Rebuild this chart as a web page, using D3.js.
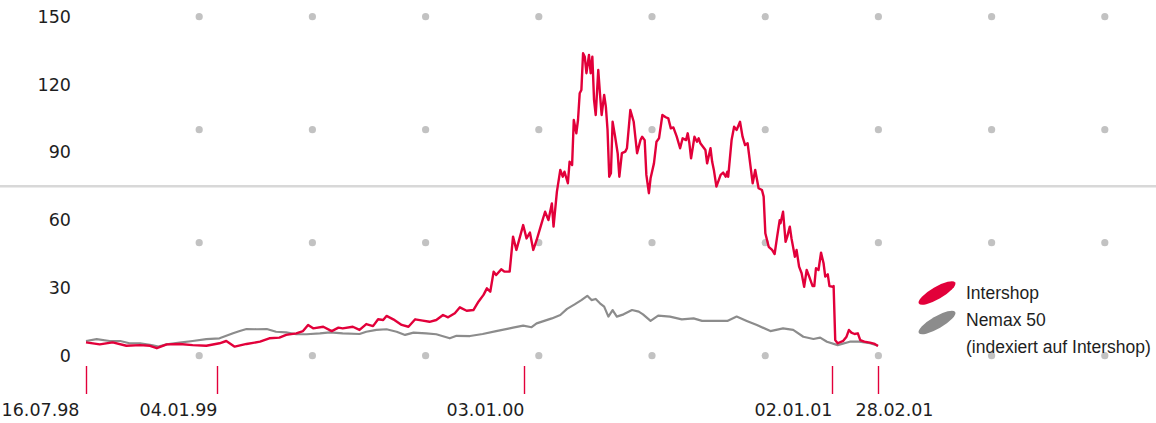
<!DOCTYPE html>
<html>
<head>
<meta charset="utf-8">
<script src="https://cdn.jsdelivr.net/npm/d3@7"></script>
<style>
  body { margin: 0; background: #fff; }
  svg text { font-family: 'Liberation Sans', Arial, sans-serif; font-size: 17.5px; fill: #1e1e1e; }
  svg .axis text { font-family: 'DejaVu Sans', sans-serif; }
</style>
</head>
<body>
<div id="chart"></div>
<script>
// axis labels
const tickDates = ['1998-07-16', '1999-01-04', '2000-01-03', '2001-01-02', '2001-02-28'];
const tickLabels = ['16.07.98', '04.01.99', '03.01.00', '02.01.01', '28.02.01'];
const yTicks = [0, 30, 60, 90, 120, 150];
const gridValues = [0, 50, 100, 150];
const seriesNames = ['Intershop', 'Nemax 50'];
const legendNote = '(indexiert auf Intershop)';

// Intershop share price [date, value]
const intershop = [
  ['1998-07-16',5.9],['1998-08-03',5.0],['1998-08-20',5.9],['1998-09-07',4.4],['1998-09-25',4.7],
  ['1998-10-08',4.4],['1998-10-17',3.3],['1998-10-30',5.0],['1998-11-16',5.2],['1998-12-03',4.7],
  ['1998-12-21',4.4],['1999-01-07',5.5],['1999-01-15',6.5],['1999-01-25',4.0],['1999-02-08',5.2],
  ['1999-02-24',6.2],['1999-03-07',7.7],['1999-03-19',8.0],['1999-03-27',9.2],['1999-04-08',9.9],
  ['1999-04-16',10.9],['1999-04-22',13.6],['1999-04-28',12.1],['1999-05-10',12.8],['1999-05-20',10.9],
  ['1999-05-28',12.4],['1999-06-02',12.1],['1999-06-14',12.8],['1999-06-22',11.4],['1999-06-30',14.0],
  ['1999-07-08',13.1],['1999-07-14',16.1],['1999-07-20',15.8],['1999-07-24',17.6],['1999-08-01',16.1],
  ['1999-08-11',13.6],['1999-08-19',12.8],['1999-08-27',16.1],['1999-09-05',15.5],['1999-09-13',15.0],
  ['1999-09-21',15.8],['1999-09-29',18.0],['1999-10-05',17.0],['1999-10-13',18.8],['1999-10-19',21.4],
  ['1999-10-27',19.9],['1999-11-04',20.2],['1999-11-10',23.9],['1999-11-16',26.9],['1999-11-20',29.8],
  ['1999-11-24',28.3],['1999-11-28',37.2],['1999-12-01',35.7],['1999-12-07',38.2],['1999-12-11',37.2],
  ['1999-12-17',37.2],['1999-12-21',52.7],['1999-12-25',46.8],['2000-01-02',57.8],['2000-01-06',51.9],
  ['2000-01-10',54.5],['2000-01-14',46.8],['2000-01-18',51.2],['2000-01-24',58.8],['2000-01-28',63.7],
  ['2000-02-01',60.0],['2000-02-05',67.4],['2000-02-07',57.1],['2000-02-11',72.6],['2000-02-15',82.2],
  ['2000-02-18',79.2],['2000-02-20',81.4],['2000-02-24',76.3],['2000-02-26',85.8],['2000-02-29',84.4],
  ['2000-03-02',104.3],['2000-03-05',98.4],['2000-03-07',104.3],['2000-03-09',116.1],['2000-03-11',117.6],
  ['2000-03-13',133.8],['2000-03-15',132.3],['2000-03-17',125.0],['2000-03-20',133.1],['2000-03-22',125.0],
  ['2000-03-24',132.3],['2000-03-26',113.2],['2000-03-28',106.5],['2000-03-31',126.4],['2000-04-02',116.1],
  ['2000-04-04',106.5],['2000-04-07',115.4],['2000-04-09',110.2],['2000-04-11',99.9],['2000-04-13',79.2],
  ['2000-04-15',80.7],['2000-04-17',103.5],['2000-04-20',96.9],['2000-04-23',89.6],['2000-04-25',79.2],
  ['2000-04-28',89.6],['2000-05-02',90.3],['2000-05-04',91.8],['2000-05-08',108.7],['2000-05-12',103.5],
  ['2000-05-16',89.6],['2000-05-20',95.4],['2000-05-22',96.9],['2000-05-25',95.4],['2000-05-27',80.0],
  ['2000-05-30',71.9],['2000-06-01',78.5],['2000-06-05',85.1],['2000-06-08',94.7],['2000-06-11',96.2],
  ['2000-06-15',106.5],['2000-06-19',105.5],['2000-06-22',105.0],['2000-06-25',100.6],['2000-06-28',101.0],
  ['2000-07-02',96.9],['2000-07-06',91.8],['2000-07-09',96.2],['2000-07-13',95.4],['2000-07-15',98.4],
  ['2000-07-17',94.0],['2000-07-19',87.3],['2000-07-23',96.9],['2000-07-26',94.7],['2000-07-28',96.2],
  ['2000-07-30',94.0],['2000-08-05',91.0],['2000-08-07',85.1],['2000-08-11',91.8],['2000-08-13',85.8],
  ['2000-08-15',82.2],['2000-08-18',74.8],['2000-08-23',80.0],['2000-08-26',81.0],['2000-08-29',79.2],
  ['2000-08-31',81.4],['2000-09-01',79.2],['2000-09-05',95.4],['2000-09-08',101.3],['2000-09-11',99.9],
  ['2000-09-15',103.5],['2000-09-18',96.9],['2000-09-21',93.2],['2000-09-24',94.0],['2000-09-27',85.1],
  ['2000-09-30',76.3],['2000-10-03',82.2],['2000-10-07',74.1],['2000-10-11',73.3],['2000-10-13',70.4],
  ['2000-10-15',54.2],['2000-10-19',48.2],['2000-10-23',46.8],['2000-10-26',45.0],['2000-10-29',52.7],
  ['2000-11-01',60.0],['2000-11-02',58.6],['2000-11-05',63.7],['2000-11-08',50.4],['2000-11-10',52.7],
  ['2000-11-13',57.1],['2000-11-15',51.9],['2000-11-19',43.8],['2000-11-21',46.8],['2000-11-24',39.4],
  ['2000-11-27',36.5],['2000-11-30',30.5],['2000-12-03',37.9],['2000-12-06',35.0],['2000-12-10',30.8],
  ['2000-12-12',30.8],['2000-12-14',38.7],['2000-12-17',37.9],['2000-12-20',45.6],['2000-12-23',40.9],
  ['2000-12-25',35.0],['2000-12-28',36.0],['2000-12-30',30.8],['2001-01-03',30.5],['2001-01-04',30.8],
  ['2001-01-06',6.9],['2001-01-09',5.5],['2001-01-16',6.6],['2001-01-20',8.4],['2001-01-23',11.4],
  ['2001-01-26',10.2],['2001-01-30',9.6],['2001-02-03',9.9],['2001-02-06',6.9],['2001-02-11',6.2],
  ['2001-02-18',5.8],['2001-02-24',5.2],['2001-02-28',4.3]
];

// Nemax 50, indexed to Intershop [date, value]
const nemax = [
  ['1998-07-16',6.5],['1998-07-30',7.3],['1998-08-16',6.5],['1998-08-30',6.5],['1998-09-11',5.5],
  ['1998-09-25',5.5],['1998-10-10',4.7],['1998-10-19',4.0],['1998-10-30',5.0],['1998-11-16',5.8],
  ['1998-12-03',6.5],['1998-12-21',7.3],['1999-01-07',7.7],['1999-01-15',8.8],['1999-01-23',9.9],
  ['1999-01-31',10.9],['1999-02-08',11.8],['1999-02-20',11.7],['1999-03-04',11.8],['1999-03-15',10.6],
  ['1999-03-27',10.3],['1999-04-08',9.5],['1999-04-20',9.5],['1999-05-06',9.9],['1999-05-18',10.3],
  ['1999-06-02',9.9],['1999-06-22',9.6],['1999-06-30',10.6],['1999-07-12',11.4],['1999-07-24',11.7],
  ['1999-08-05',10.6],['1999-08-15',9.2],['1999-08-25',10.2],['1999-09-09',9.9],['1999-09-21',9.5],
  ['1999-10-01',8.4],['1999-10-07',7.7],['1999-10-15',8.8],['1999-10-31',8.7],['1999-11-15',9.6],
  ['1999-12-01',10.9],['1999-12-17',12.1],['1999-12-21',12.4],['2000-01-02',13.3],['2000-01-12',12.6],
  ['2000-01-18',14.3],['2000-02-05',16.5],['2000-02-15',18.0],['2000-02-23',20.7],['2000-03-03',22.7],
  ['2000-03-11',24.6],['2000-03-18',26.5],['2000-03-23',24.6],['2000-03-28',25.1],['2000-04-02',23.2],
  ['2000-04-07',21.7],['2000-04-12',17.3],['2000-04-17',20.2],['2000-04-22',17.3],['2000-04-30',18.3],
  ['2000-05-10',20.2],['2000-05-18',19.5],['2000-05-23',18.3],['2000-06-01',15.4],['2000-06-10',17.7],
  ['2000-06-24',17.3],['2000-07-08',16.1],['2000-07-22',16.5],['2000-08-01',15.4],['2000-08-15',15.4],
  ['2000-08-31',15.4],['2000-09-11',17.3],['2000-09-23',15.4],['2000-10-05',13.6],['2000-10-21',10.9],
  ['2000-11-05',12.1],['2000-11-17',11.4],['2000-11-29',8.4],['2000-12-11',7.4],['2000-12-19',8.0],
  ['2000-12-27',6.2],['2001-01-09',4.7],['2001-01-24',6.2],['2001-02-05',6.2],['2001-02-18',5.5],
  ['2001-02-28',4.4]
];

const parse = d3.timeParse('%Y-%m-%d');

class StockChart {

    width; height;
    svg; grid; lines; axisX; axisY; legend;
    scaleX; scaleY;
    colors = ['#e2003a', '#8c8c8c'];

    constructor(container, width, height){
        this.width = width;
        this.height = height;
        this.svg = d3.select(container).append('svg')
            .attr('width', width).attr('height', height);
        this.grid = this.svg.append('g');
        this.lines = this.svg.append('g');
        this.axisX = this.svg.append('g').classed('axis', true)
            .attr('transform', 'translate(0,366)');
        this.axisY = this.svg.append('g').classed('axis', true)
            .attr('transform', 'translate(71,0)');
        this.legend = this.svg.append('g').attr('transform', 'translate(937,293)');
    }

    #updateScales(){
        // the time axis is stretched piecewise between the labelled dates
        this.scaleX = d3.scaleTime()
            .domain(tickDates.map(parse))
            .range([86, 217, 524, 832, 878]);
        this.scaleY = d3.scaleLinear([0, 150], [355.7, 16.7]);
    }

    #updateGrid(){
        let cols = d3.range(1, 10).map(k => 86 + k*113.2);
        let cells = gridValues.flatMap(v => cols.map(x => [x, this.scaleY(v)]));
        this.grid.selectAll('circle')
            .data(cells)
            .join('circle')
            .attr('cx', d => d[0]).attr('cy', d => d[1])
            .attr('r', 3.6).attr('fill', '#c2c2c2');
        // divider line at the half of the scale
        this.grid.append('line')
            .attr('x1', 0).attr('x2', this.width)
            .attr('y1', this.scaleY(75)).attr('y2', this.scaleY(75))
            .attr('stroke', '#d8d8d8').attr('stroke-width', 2.5);
    }

    #updateLines(series){
        let line = d3.line()
            .x(d => this.scaleX(parse(d[0])))
            .y(d => this.scaleY(d[1]));
        this.lines.selectAll('path')
            .data(series)
            .join('path')
            .attr('d', line)
            .attr('fill', 'none')
            .attr('stroke', d => d == intershop ? this.colors[0] : this.colors[1])
            .attr('stroke-width', d => d == intershop ? 2.4 : 2.2)
            .attr('stroke-linejoin', 'round');
    }

    #updateAxes(){
        let last = tickLabels.length - 1;
        let axisGenX = d3.axisBottom(this.scaleX)
            .tickValues(tickDates.map(parse))
            .tickFormat((d, i) => tickLabels[i])
            .tickSize(28).tickPadding(10);
        this.axisX.call(axisGenX);
        this.axisX.select('.domain').remove();
        this.axisX.selectAll('line').attr('stroke', this.colors[0]).attr('stroke-width', 1.4);
        this.axisX.selectAll('text')
            .attr('font-size', 16.8)
            .style('text-anchor', 'end')
            .attr('dx', (d, i) => i == 0 ? -7 : (i == last ? 55 : 0));

        let axisGenY = d3.axisLeft(this.scaleY)
            .tickValues(yTicks).tickSize(0).tickPadding(0);
        this.axisY.call(axisGenY);
        this.axisY.select('.domain').remove();
        this.axisY.selectAll('text').attr('font-size', 16.8);
    }

    #updateLegend(){
        this.legend.selectAll('ellipse')
            .data(seriesNames)
            .join('ellipse')
            .attr('transform', (d, i) => `translate(0,${i*29.5})rotate(-30)`)
            .attr('rx', 21).attr('ry', 6.2)
            .attr('fill', (d, i) => this.colors[i]);
        this.legend.selectAll('text')
            .data([...seriesNames, legendNote])
            .join('text')
            .attr('x', 29)
            .attr('y', (d, i) => i*26.7)
            .attr('dy', '0.35em')
            .text(d => d);
    }

    render(series){
        this.#updateScales();
        this.#updateGrid();
        this.#updateLines(series);
        this.#updateAxes();
        this.#updateLegend();
        return this;
    }
}

// Nemax drawn first so Intershop stays on top
new StockChart('#chart', 1156, 423).render([nemax, intershop]);
</script>
</body>
</html>
